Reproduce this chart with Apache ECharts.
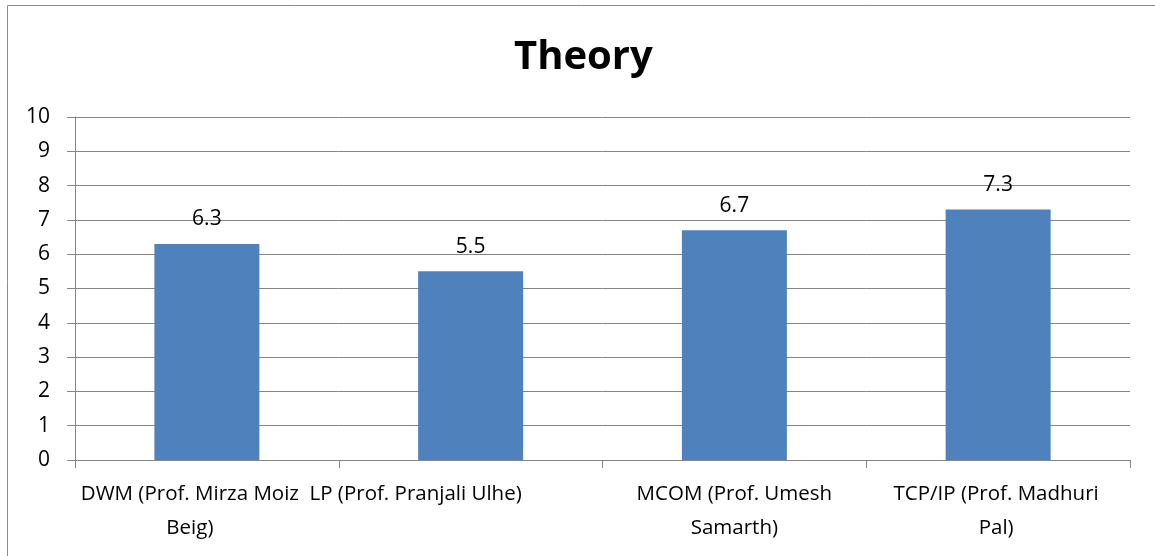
<!DOCTYPE html>
<html><head><meta charset="utf-8">
<script src="https://cdn.jsdelivr.net/npm/echarts@6/dist/echarts.min.js"></script>
<style>html,body{margin:0;padding:0;background:#fff}#c{width:1155px;height:556px}</style>
</head><body><div id="c"></div>
<script>
const categories = ["DWM (Prof. Mirza Moiz\nBeig)", "LP (Prof. Pranjali Ulhe)", "MCOM (Prof. Umesh\nSamarth)", "TCP/IP (Prof. Madhuri\nPal)"];
const values = [6.3, 5.5, 6.7, 7.3];
const yTicks = [0, 1, 2, 3, 4, 5, 6, 7, 8, 9, 10];
// horizontal label shift (px, negative = left) as in the reference layout
const labelShift = [-17, -55, 0, -2];

const chart = echarts.init(document.getElementById('c'), null, {renderer: 'canvas'});
const font = "'Open Sans', 'Liberation Sans', sans-serif";
const xData = categories.map((c, i) => ({
  value: c,
  textStyle: {padding: labelShift[i] < 0 ? [0, -2 * labelShift[i], 0, 0] : [0, 0, 0, 2 * labelShift[i]]}
}));
chart.setOption({
  animation: false,
  title: {text: 'Theory', left: 509, top: 33, textStyle: {fontFamily: font, fontSize: 40, fontWeight: 'bold', color: '#000'}},
  graphic: [{type: 'rect', shape: {x: 7.5, y: 5.5, width: 1160, height: 600}, style: {fill: 'none', stroke: '#8c8c8c', lineWidth: 1}, silent: true}],
  grid: {left: 75, right: 25, top: 117, bottom: 96, containLabel: false},
  xAxis: {
    type: 'category', data: xData,
    axisLine: {lineStyle: {color: '#868686', width: 1}},
    axisTick: {show: true, length: 8, alignWithLabel: false, lineStyle: {color: '#868686'}},
    axisLabel: {fontFamily: font, fontSize: 20.5, color: '#000', margin: 17, lineHeight: 34, interval: 0}
  },
  yAxis: {
    type: 'value', min: yTicks[0], max: yTicks[yTicks.length - 1], interval: 1,
    axisLine: {show: true, lineStyle: {color: '#868686', width: 1}},
    axisTick: {show: true, length: 8, inside: false, lineStyle: {color: '#868686'}},
    splitLine: {show: true, lineStyle: {color: '#868686', width: 1}},
    axisLabel: {fontFamily: font, fontSize: 21, color: '#000', margin: 25}
  },
  series: [{
    type: 'bar', data: values, barWidth: 105,
    itemStyle: {color: '#4F81BD'},
    label: {show: true, position: 'top', distance: 14, fontFamily: font, fontSize: 21, color: '#000'}
  }]
});
</script></body></html>
